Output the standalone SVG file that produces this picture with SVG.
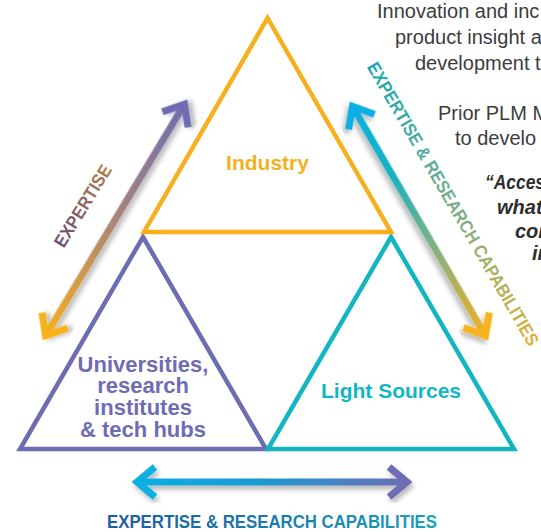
<svg xmlns="http://www.w3.org/2000/svg" width="541" height="532" viewBox="0 0 541 532">
<style>
.tri{fill:none;stroke-width:4.5;stroke-linejoin:miter}
.lbl{font-family:"Liberation Sans",Arial,sans-serif;font-weight:700;text-anchor:middle}
.body{font-family:"Liberation Sans",Arial,sans-serif;font-size:20px;fill:#3c3c3c}
.quote{font-weight:700;font-style:italic;fill:#2e2e2e}
.shaft{fill:none;stroke-width:7;stroke-linecap:butt;stroke-linejoin:miter}
.arrtxt{font-family:"Liberation Sans",Arial,sans-serif;font-weight:700;font-size:18px;text-anchor:middle}
</style>
<defs>
<filter id="sh" x="-20%" y="-20%" width="140%" height="140%">
<feDropShadow dx="2" dy="4" stdDeviation="2.5" flood-color="#000" flood-opacity="0.28"/>
</filter>
<linearGradient id="gLeft" gradientUnits="userSpaceOnUse" x1="0" y1="0" x2="280" y2="0">
<stop offset="0" stop-color="#f7b21c"/><stop offset="0.5" stop-color="#a88478"/><stop offset="1" stop-color="#6d6cb4"/>
</linearGradient>
<linearGradient id="gRight" gradientUnits="userSpaceOnUse" x1="0" y1="0" x2="275" y2="0">
<stop offset="0" stop-color="#0eaee2"/><stop offset="0.3" stop-color="#14b2c0"/><stop offset="0.65" stop-color="#8fb07a"/><stop offset="1" stop-color="#f7b21c"/>
</linearGradient>
<linearGradient id="gBottom" gradientUnits="userSpaceOnUse" x1="0" y1="0" x2="280" y2="0">
<stop offset="0" stop-color="#0cb0e2"/><stop offset="0.45" stop-color="#1a9ad2"/><stop offset="1" stop-color="#6f6db4"/>
</linearGradient>
<linearGradient id="tLeft" x1="0" y1="0" x2="1" y2="0">
<stop offset="0" stop-color="#6a5072"/><stop offset="1" stop-color="#b27a4c"/>
</linearGradient>
<linearGradient id="tRight" x1="0" y1="0" x2="1" y2="0">
<stop offset="0" stop-color="#17a8b2"/><stop offset="0.45" stop-color="#6aae8e"/><stop offset="0.75" stop-color="#a8b062"/><stop offset="1" stop-color="#ddb236"/>
</linearGradient>
<linearGradient id="tBottom" x1="0" y1="0" x2="1" y2="0">
<stop offset="0" stop-color="#1d5c9c"/><stop offset="0.55" stop-color="#1a80ae"/><stop offset="1" stop-color="#1aa2bb"/>
</linearGradient>
</defs>

<rect width="541" height="532" fill="#ffffff"/>

<g id="text-block">
<text class="body" x="377" y="18">Innovation and inc</text>
<text class="body" x="395" y="44">product insight a</text>
<text class="body" x="415" y="70">development t</text>
<text class="body" x="438" y="120">Prior PLM M</text>
<text class="body" x="455" y="145">to develo</text>
<text class="body quote" x="485" y="189" textLength="60" lengthAdjust="spacingAndGlyphs">“Acces</text>
<text class="body quote" x="497" y="214">what</text>
<text class="body quote" x="515" y="238">con</text>
<text class="body quote" x="532" y="260">in</text>
</g>

<g id="universities">
<polygon class="tri" stroke="#6e6cb3" points="143,237 266,449 20,449"/>
<text class="lbl" fill="#6e6cb3" font-size="22"><tspan x="143" y="372">Universities,</tspan><tspan x="143" y="393">research</tspan><tspan x="143" y="415">institutes</tspan><tspan x="143" y="437">&amp; tech hubs</tspan></text>
</g>

<g id="light-sources">
<polygon class="tri" stroke="#12b6c3" points="391,237 514,449 268,449"/>
<text class="lbl" fill="#12b6c3" font-size="21" x="391" y="398">Light Sources</text>
</g>

<g id="industry">
<polygon class="tri" stroke="#f6b01e" points="267.5,18 391,232 144,232"/>
<text class="lbl" fill="#f6b01e" font-size="21" x="267.5" y="170">Industry</text>
</g>

<g id="connectors">
<g id="arrow-left" filter="url(#sh)" transform="translate(43,340) rotate(-59.04)">
<line class="shaft" stroke="url(#gLeft)" x1="4" y1="0" x2="276" y2="0"/>
<polyline class="shaft" stroke="#f7b21c" points="23,-15 5,0 23,15"/>
<polyline class="shaft" stroke="#6d6cb4" points="257,-15 275,0 257,15"/>
</g>
<g id="arrow-right" filter="url(#sh)" transform="translate(350,102) rotate(59.9)">
<line class="shaft" stroke="url(#gRight)" x1="4" y1="0" x2="271" y2="0"/>
<polyline class="shaft" stroke="#0eaee2" points="23,-15 5,0 23,15"/>
<polyline class="shaft" stroke="#f7b21c" points="252,-15 270,0 252,15"/>
</g>
<g id="arrow-bottom" filter="url(#sh)" transform="translate(132,482)">
<line class="shaft" stroke="url(#gBottom)" x1="4" y1="0" x2="276" y2="0"/>
<polyline class="shaft" stroke="#0cb0e2" points="23,-15 5,0 23,15"/>
<polyline class="shaft" stroke="#6f6db4" points="257,-15 275,0 257,15"/>
</g>
<text class="arrtxt" fill="url(#tLeft)" font-size="17" transform="translate(83,206) rotate(-58.5)" x="0" y="6" textLength="93" lengthAdjust="spacingAndGlyphs">EXPERTISE</text>
<text class="arrtxt" fill="url(#tRight)" transform="translate(453,204) rotate(59.9)" x="0" y="6" textLength="324" lengthAdjust="spacingAndGlyphs">EXPERTISE &amp; RESEARCH CAPABILITIES</text>
<text class="arrtxt" fill="url(#tBottom)" font-size="19" x="272" y="528" textLength="330" lengthAdjust="spacingAndGlyphs">EXPERTISE &amp; RESEARCH CAPABILITIES</text>
</g>
</svg>
